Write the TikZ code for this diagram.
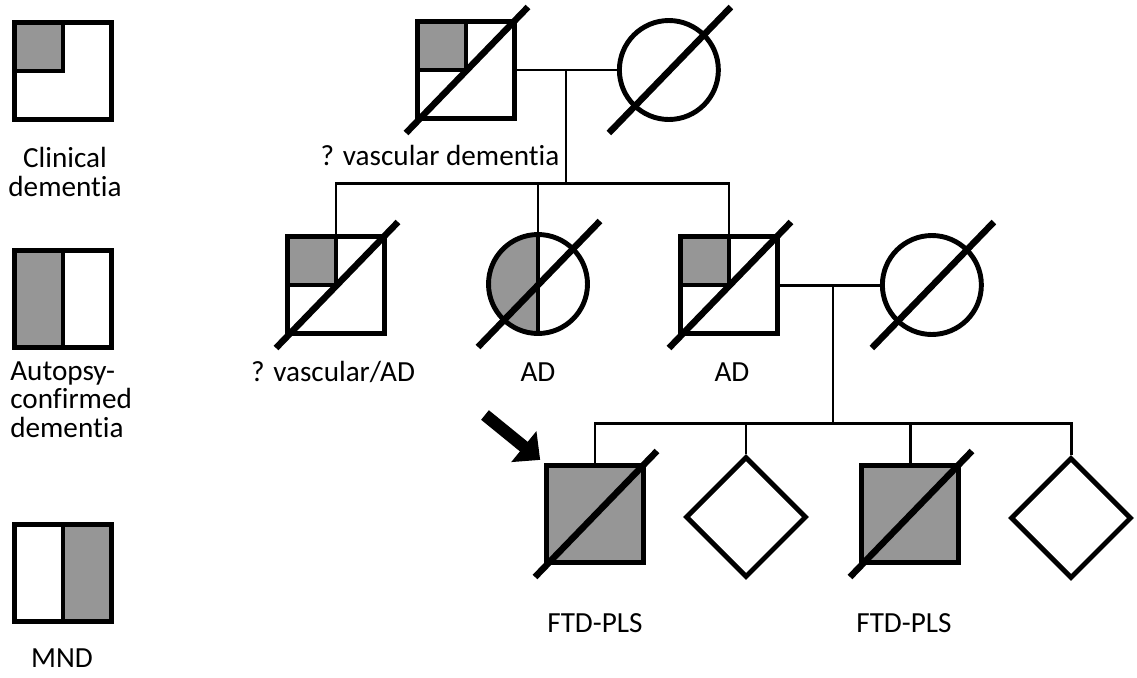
\documentclass[tikz,border=0pt]{standalone}
\usepackage{fontspec}
\setmainfont{Carlito}[Ligatures={NoCommon,NoRequired,NoContextual},Contextuals=NoAlternate]
\usetikzlibrary{arrows.meta,positioning,calc,shapes.geometric}
\definecolor{affgrey}{RGB}{150,150,150}

\begin{document}
\begin{tikzpicture}[
  x=0.02cm, y=-0.02cm,
  node distance=2cm,
  male/.style={draw,line width=2.8pt,minimum size=1.94cm,inner sep=0pt},
  female/.style={draw,circle,line width=2.8pt,minimum size=1.98cm,inner sep=0pt},
  unknown/.style={draw,diamond,line width=2.8pt,minimum size=2.42cm,inner sep=0pt},
  quarter/.style={path picture={\fill[affgrey] (path picture bounding box.north west) rectangle (path picture bounding box.center);}},
  lefthalf/.style={path picture={\fill[affgrey] (path picture bounding box.north west) rectangle (path picture bounding box.south);}},
  righthalf/.style={path picture={\fill[affgrey] (path picture bounding box.north) rectangle (path picture bounding box.south east);}},
  affected/.style={fill=affgrey},
  divider/.style={line width=2.8pt},
  link/.style={line width=1.7pt},
  slash/.style={line width=3.7pt},
  pointer/.style={line width=7pt,-{Triangle[length=12pt,width=22pt]},shorten >=0.1cm},
  caption/.style={font=\fontsize{16.6pt}{16.3pt}\selectfont,inner sep=0pt}
]
  \useasboundingbox (0,0) rectangle (1137,677);

  % legend
  \node[male,quarter] (legclin) at (63,71) {};
  \node[male,lefthalf] (legauto) at (63,299) {};
  \node[male,righthalf] (legmnd) at (63,573) {};
  \draw[divider] (legclin.north) |- (legclin.west);
  \draw[divider] (legauto.north) -- (legauto.south);
  \draw[divider] (legmnd.north) -- (legmnd.south);
  \node[caption,align=center,anchor=north] (txtclin) at (65,147) {Clinical\\dementia};
  \node[caption,align=left,anchor=north west] (txtauto) at (10,361) {Autopsy-\\confirmed\\dementia};
  \node[caption,anchor=base] (txtmnd) at (62,667) {MND};

  % generation I
  \node[male,quarter] (I1) at (466,70) {};
  \node[female,right=of I1] (I2) {};
  \draw[divider] (I1.north) |- (I1.west);
  \node[caption,anchor=base] (lblI1) at (440,165) {? vascular dementia};

  % generation II
  \node[male,quarter] (II1) at (336,285) {};
  \node[female,lefthalf] (II2) at (538,284) {};
  \node[male,quarter] (II3) at (729,285) {};
  \node[female,right=of II3] (II4) {};
  \draw[divider] (II1.north) |- (II1.west);
  \draw[divider] (II2.north) -- (II2.south);
  \draw[divider] (II3.north) |- (II3.west);
  \node[caption,anchor=base] (lblII1) at (333,381) {? vascular/AD};
  \node[caption,anchor=base] (lblII2) at (538,381) {AD};
  \node[caption,anchor=base] (lblII3) at (732,381) {AD};

  % generation III
  \node[male,affected] (III1) at (595,514) {};
  \node[unknown] (III2) at (746,517) {};
  \node[male,affected] (III3) at (910,514) {};
  \node[unknown] (III4) at (1071,518) {};
  \node[caption,anchor=base] (lblIII1) at (595,632) {FTD-PLS};
  \node[caption,anchor=base] (lblIII3) at (904,632) {FTD-PLS};

  % lines of descent
  \coordinate (mI) at (566,70);
  \coordinate (sI) at (566,183);
  \coordinate (mII) at (833,285);
  \coordinate (sII) at (833,423);
  \draw[link] (I1) -- (I2);
  \draw[link] (mI) -- (sI);
  \draw[link] (II1.north) |- (II3.north |- sI) -- (II3.north);
  \draw[link] (II2.north) -- (II2.north |- sI);
  \draw[link] (II3) -- (II4);
  \draw[link] (mII) -- (sII);
  \draw[link] (III1.north) |- (III4.north |- sII) -- (III4.north);
  \draw[link] (III2.north) -- (III2.north |- sII);
  \draw[link] (III3.north) -- (III3.north |- sII);

  % deceased
  \foreach \n in {I1,I2,II1,II2,II3,II4,III1,III3}
    \draw[slash] ($(\n.center)+(-60,63)$) -- ($(\n.center)+(62,-63)$);

  % proband
  \coordinate (ptail) at (485,415);
  \draw[pointer] (ptail) -- (III1.north west);
\end{tikzpicture}
\end{document}
